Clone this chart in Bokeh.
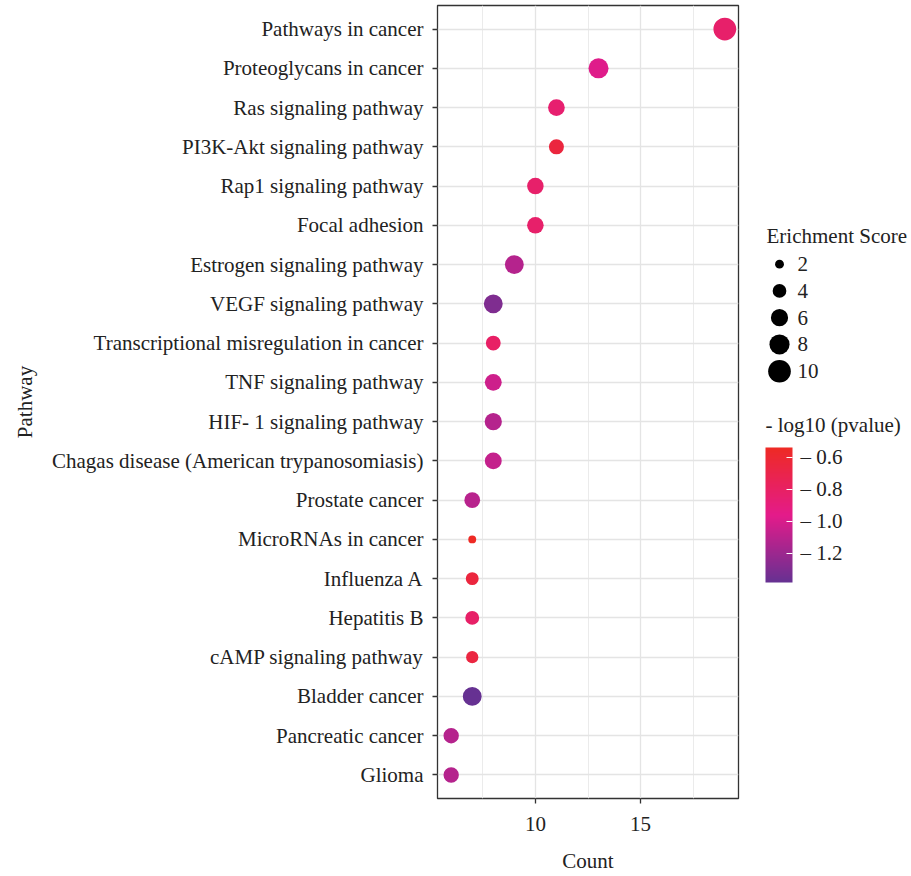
import numpy as np
from bokeh.plotting import figure
from bokeh.layouts import row
from bokeh.models import (ColumnDataSource, Range1d, FactorRange, FixedTicker,
                          LinearColorMapper, ColorBar, CustomJSTickFormatter)
from bokeh.core.properties import value
from bokeh.embed import file_html
from bokeh.resources import INLINE

# ---------------- data (top to bottom as in the chart) ----------------
pathways = [
    "Pathways in cancer",
    "Proteoglycans in cancer",
    "Ras signaling pathway",
    "PI3K-Akt signaling pathway",
    "Rap1 signaling pathway",
    "Focal adhesion",
    "Estrogen signaling pathway",
    "VEGF signaling pathway",
    "Transcriptional misregulation in cancer",
    "TNF signaling pathway",
    "HIF- 1 signaling pathway",
    "Chagas disease (American trypanosomiasis)",
    "Prostate cancer",
    "MicroRNAs in cancer",
    "Influenza A",
    "Hepatitis B",
    "cAMP signaling pathway",
    "Bladder cancer",
    "Pancreatic cancer",
    "Glioma",
]
counts = [19, 13, 11, 11, 10, 10, 9, 8, 8, 8, 8, 8, 7, 7, 7, 7, 7, 7, 6, 6]
enrichment = [10.1, 7.9, 5.7, 4.7, 5.6, 5.6, 7.1, 7.1, 4.6, 5.8,
              6.0, 5.8, 5.1, 1.7, 3.6, 4.1, 3.3, 7.1, 4.9, 4.9]
log10p = [-0.83, -0.98, -0.85, -0.65, -0.83, -0.83, -1.12, -1.30, -0.81, -1.04,
          -1.12, -1.07, -1.11, -0.54, -0.65, -0.82, -0.66, -1.384, -1.12, -1.12]

x_ticks = [10, 15]
x_minor_ticks = [7.5, 12.5, 17.5]
size_breaks = [2, 4, 6, 8, 10]
color_ticks = [-1.2, -1.0, -0.8, -0.6]

FONT = "Liberation Serif"
TXT = "#222222"
FS = "21px"

# size scale (area linear in value)
def size_scale(v):
    v = np.asarray(v, dtype=float)
    return np.sqrt(-30.2 + 54.4 * v)

# colour gradient purple -> magenta -> red
anchors = [(102, 49, 146), (228, 27, 138), (238, 42, 36)]
palette = []
n = 256
for i in range(n):
    t = i / (n - 1) * (len(anchors) - 1)
    k = min(int(t), len(anchors) - 2)
    f = t - k
    c = [round(anchors[k][j] + (anchors[k + 1][j] - anchors[k][j]) * f) for j in range(3)]
    palette.append("#%02x%02x%02x" % tuple(c))

mapper = LinearColorMapper(palette=palette, low=min(log10p), high=max(log10p))

src = ColumnDataSource(dict(pathway=pathways, count=counts, enrich=enrichment,
                            logp=log10p, size=size_scale(enrichment)))

# layout constants (page pixels)
FR_LEFT, FR_RIGHT, FR_TOP, FR_BOTTOM = 437, 738, 5, 799
H = 875
W1 = FR_RIGHT + 2
W2 = 909 - W1

xpad = 0.05 * (max(counts) - min(counts))
p = figure(width=W1, height=H,
           x_range=Range1d(min(counts) - xpad, max(counts) + xpad),
           y_range=FactorRange(factors=pathways[::-1], range_padding=0.01),
           output_backend="svg", toolbar_location=None,
           min_border_left=FR_LEFT, min_border_right=W1 - FR_RIGHT,
           min_border_top=FR_TOP, min_border_bottom=H - FR_BOTTOM,
           x_axis_label="Count", y_axis_label="Pathway")

p.scatter(x="count", y="pathway", size="size", source=src,
          fill_color={"field": "logp", "transform": mapper}, line_color=None)

p.xaxis.ticker = FixedTicker(ticks=x_ticks, minor_ticks=x_minor_ticks)
p.xgrid.grid_line_color = "#E4E4E4"
p.xgrid.grid_line_width = 1.3
p.xgrid.minor_grid_line_color = "#EBEBEB"
p.xgrid.minor_grid_line_width = 1.0
p.ygrid.grid_line_color = "#E4E4E4"
p.ygrid.grid_line_width = 1.3
p.outline_line_color = "#333333"
p.outline_line_width = 1.3
p.background_fill_color = "white"

for ax in (p.xaxis, p.yaxis):
    ax.axis_line_color = None
    ax.major_tick_line_color = "#333333"
    ax.major_tick_line_width = 1.3
    ax.major_tick_out = 5
    ax.major_tick_in = 0
    ax.minor_tick_line_color = None
    ax.major_label_text_font = FONT
    ax.major_label_text_font_size = FS
    ax.major_label_text_color = TXT
    ax.axis_label_text_font = FONT
    ax.axis_label_text_font_size = FS
    ax.axis_label_text_font_style = "normal"
    ax.axis_label_text_color = TXT
p.yaxis.major_label_standoff = 9
p.yaxis.axis_label_standoff = 12
p.xaxis.major_label_standoff = 13
p.xaxis.axis_label_standoff = 15

# ---------------- legend panel (ranges in page pixels; frame aligned with main) ----------------
leg = figure(width=W2, height=H, x_range=Range1d(W1, 909), y_range=Range1d(FR_BOTTOM, FR_TOP),
             output_backend="svg", toolbar_location=None, min_border=0,
             min_border_top=FR_TOP, min_border_bottom=H - FR_BOTTOM)
leg.axis.visible = False
leg.grid.visible = False
leg.outline_line_color = None

leg.text(x=[766], y=[236], text=["Erichment Score"], text_font=value(FONT),
         text_font_size=FS, text_color=TXT, text_baseline="alphabetic")
ly = [264 + 26.8 * i for i in range(len(size_breaks))]
leg.scatter(x=[779] * len(size_breaks), y=ly, size=size_scale(size_breaks),
            fill_color="black", line_color=None)
leg.text(x=[797] * len(size_breaks), y=ly, text=[str(b) for b in size_breaks],
         text_font=value(FONT), text_font_size=FS, text_color=TXT, text_baseline="middle")

leg.text(x=[765], y=[425], text=["- log10 (pvalue)"], text_font=value(FONT),
         text_font_size=FS, text_color=TXT, text_baseline="alphabetic")

cb = ColorBar(color_mapper=mapper, ticker=FixedTicker(ticks=color_ticks),
              formatter=CustomJSTickFormatter(code="return (tick < 0 ? '\u2013 ' : '') + Math.abs(tick).toFixed(1)"),
              width=27, height=135, location=(765 - W1, FR_BOTTOM - 583), padding=0,
              label_standoff=8, major_tick_in=6, major_tick_out=0,
              major_tick_line_color="white", major_tick_line_width=1.2,
              bar_line_color=None, background_fill_alpha=0, border_line_color=None,
              major_label_text_font=FONT, major_label_text_font_size=FS,
              major_label_text_color=TXT)
leg.add_layout(cb, "center")

layout = row(p, leg)
open("out.html", "w").write(file_html(layout, INLINE))
